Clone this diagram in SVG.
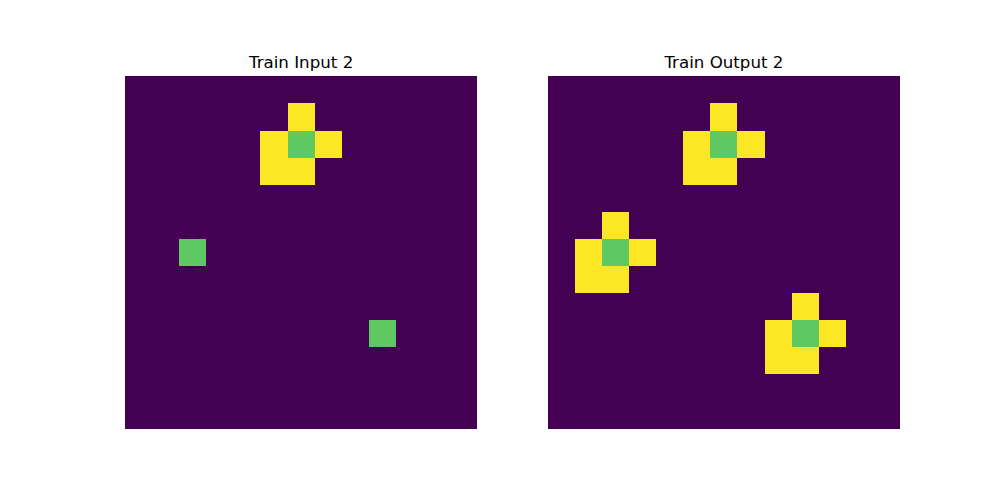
<svg xmlns="http://www.w3.org/2000/svg" width="1000" height="500" viewBox="0 0 1000 500">
<style>
.bg{fill:#440154}
.y{fill:#fde725}
.g{fill:#5ec962}
.t{font-family:"DejaVu Sans",sans-serif;font-size:16.67px;fill:#000;text-anchor:middle}
</style>
<rect width="1000" height="500" fill="#fff"/>
<g id="input-panel">
<text class="t" x="301.1" y="68">Train Input 2</text>
<g transform="translate(125,76.36) scale(27.098)" shape-rendering="crispEdges">
<rect class="bg" x="0" y="0" width="13" height="13"/>
<rect class="y" x="6" y="1" width="1" height="1"/>
<rect class="y" x="5" y="2" width="3" height="1"/>
<rect class="g" x="6" y="2" width="1" height="1"/>
<rect class="y" x="5" y="3" width="2" height="1"/>
<rect class="g" x="2" y="6" width="1" height="1"/>
<rect class="g" x="9" y="9" width="1" height="1"/>
</g>
</g>
<g id="output-panel">
<text class="t" x="723.9" y="68">Train Output 2</text>
<g transform="translate(547.73,76.36) scale(27.098)" shape-rendering="crispEdges">
<rect class="bg" x="0" y="0" width="13" height="13"/>
<rect class="y" x="6" y="1" width="1" height="1"/>
<rect class="y" x="5" y="2" width="3" height="1"/>
<rect class="g" x="6" y="2" width="1" height="1"/>
<rect class="y" x="5" y="3" width="2" height="1"/>
<rect class="y" x="2" y="5" width="1" height="1"/>
<rect class="y" x="1" y="6" width="3" height="1"/>
<rect class="g" x="2" y="6" width="1" height="1"/>
<rect class="y" x="1" y="7" width="2" height="1"/>
<rect class="y" x="9" y="8" width="1" height="1"/>
<rect class="y" x="8" y="9" width="3" height="1"/>
<rect class="g" x="9" y="9" width="1" height="1"/>
<rect class="y" x="8" y="10" width="2" height="1"/>
</g>
</g>
<g id="connectors"></g>
</svg>
